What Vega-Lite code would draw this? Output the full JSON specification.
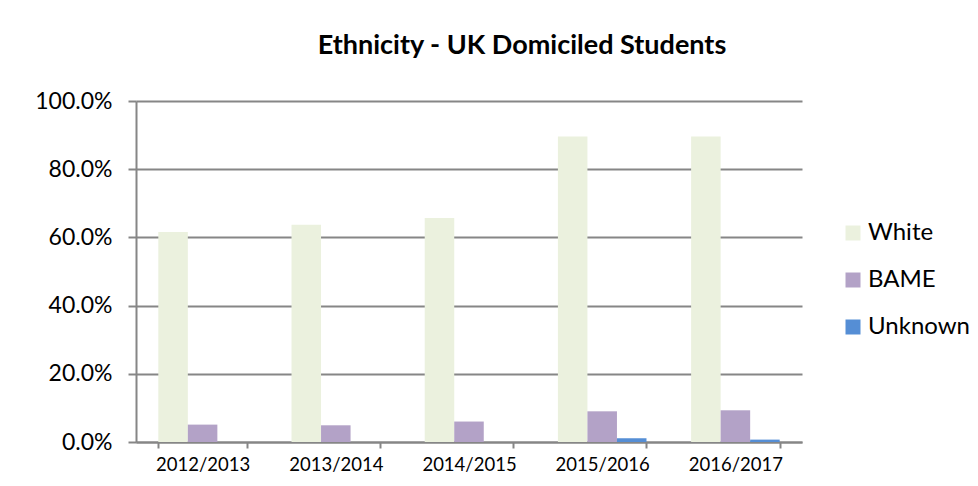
{
  "$schema": "https://vega.github.io/schema/vega-lite/v6.json",
  "autosize": {"type": "none"},
  "padding": {"left": 136, "top": 101, "right": 176, "bottom": 44},
  "width": 666,
  "height": 341,
  "background": "white",
  "config": {
    "font": "Lato",
    "view": {"stroke": null}
  },
  "title": {
    "text": "Ethnicity - UK Domiciled Students",
    "fontSize": 27,
    "fontWeight": "bold",
    "color": "#000000",
    "font": "Lato",
    "anchor": "middle",
    "dx": 53,
    "offset": 30
  },
  "data": {
    "values": [
      {"year": "2012/2013", "group": "White", "pct": 0.616},
      {"year": "2012/2013", "group": "BAME", "pct": 0.051},
      {"year": "2012/2013", "group": "Unknown", "pct": 0.0},
      {"year": "2013/2014", "group": "White", "pct": 0.637},
      {"year": "2013/2014", "group": "BAME", "pct": 0.049},
      {"year": "2013/2014", "group": "Unknown", "pct": 0.0},
      {"year": "2014/2015", "group": "White", "pct": 0.657},
      {"year": "2014/2015", "group": "BAME", "pct": 0.060},
      {"year": "2014/2015", "group": "Unknown", "pct": 0.0},
      {"year": "2015/2016", "group": "White", "pct": 0.896},
      {"year": "2015/2016", "group": "BAME", "pct": 0.090},
      {"year": "2015/2016", "group": "Unknown", "pct": 0.011},
      {"year": "2016/2017", "group": "White", "pct": 0.896},
      {"year": "2016/2017", "group": "BAME", "pct": 0.093},
      {"year": "2016/2017", "group": "Unknown", "pct": 0.007}
    ]
  },
  "mark": {"type": "bar"},
  "encoding": {
    "x": {
      "field": "year",
      "type": "nominal",
      "title": null,
      "scale": {"paddingInner": 0.335, "paddingOuter": 0.1675},
      "axis": {
        "labelAngle": 0,
        "labelFontSize": 18.5,
        "labelColor": "#000000",
        "labelPadding": 7,
        "domainColor": "#868686",
        "domainWidth": 2,
        "tickColor": "#868686",
        "tickWidth": 2,
        "tickSize": 6,
        "tickBand": "extent",
        "grid": false
      }
    },
    "xOffset": {
      "field": "group",
      "type": "nominal",
      "sort": ["White", "BAME", "Unknown"],
      "scale": {"paddingInner": 0, "paddingOuter": 0}
    },
    "y": {
      "field": "pct",
      "type": "quantitative",
      "title": null,
      "scale": {"domain": [0, 1], "nice": false},
      "axis": {
        "values": [0, 0.2, 0.4, 0.6, 0.8, 1.0],
        "format": ".1%",
        "labelFontSize": 23,
        "labelColor": "#000000",
        "labelPadding": 16,
        "domainColor": "#868686",
        "domainWidth": 2,
        "tickColor": "#868686",
        "tickWidth": 2,
        "tickSize": 8,
        "grid": true,
        "gridColor": "#868686",
        "gridWidth": 2
      }
    },
    "color": {
      "field": "group",
      "type": "nominal",
      "sort": ["White", "BAME", "Unknown"],
      "scale": {
        "domain": ["White", "BAME", "Unknown"],
        "range": ["#EBF1DE", "#B3A2C7", "#558ED5"]
      },
      "legend": {
        "title": null,
        "orient": "none",
        "legendX": 705,
        "legendY": 120,
        "symbolType": "square",
        "symbolSize": 225,
        "symbolStrokeWidth": 0,
        "labelFontSize": 24,
        "labelColor": "#000000",
        "labelOffset": 3,
        "rowPadding": 23
      }
    }
  }
}
